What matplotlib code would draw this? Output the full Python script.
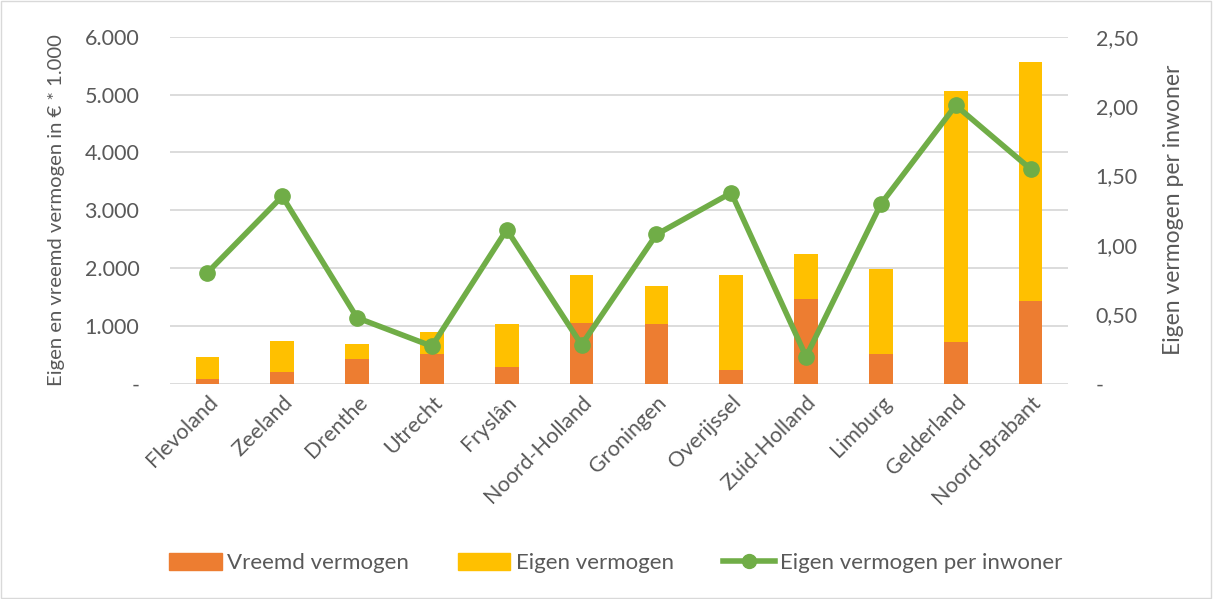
import numpy as np
import matplotlib.pyplot as plt
from matplotlib.patches import Rectangle
from matplotlib.lines import Line2D

provincies = ['Flevoland', 'Zeeland', 'Drenthe', 'Utrecht', 'Fryslân', 'Noord-Holland',
              'Groningen', 'Overijssel', 'Zuid-Holland', 'Limburg', 'Gelderland', 'Noord-Brabant']
vreemd = [86, 208, 433, 519, 294, 1055, 1038, 237, 1460, 519, 727, 1436]
eigen = [371, 531, 249, 375, 739, 826, 652, 1649, 779, 1465, 4337, 4125]
per_inwoner = [0.80, 1.35, 0.475, 0.27, 1.11, 0.28, 1.075, 1.375, 0.195, 1.295, 2.005, 1.547]

left_ticks = [0, 1000, 2000, 3000, 4000, 5000, 6000]
left_labels = ['-', '1.000', '2.000', '3.000', '4.000', '5.000', '6.000']
right_ticks = [0, 0.5, 1.0, 1.5, 2.0, 2.5]
right_labels = ['-', '0,50', '1,00', '1,50', '2,00', '2,50']

plt.rcParams['font.family'] = ['Lato', 'DejaVu Sans']
txt = '#595959'

fig = plt.figure(figsize=(12.13, 5.99), dpi=100)
ax = fig.add_axes([170/1213, 1 - 383.7/599, 898/1213, 347/599])
ax2 = ax.twinx()

x = np.arange(len(provincies))
w = 0.316
ax.bar(x, vreemd, w, color='#ED7D31', zorder=2)
ax.bar(x, eigen, w, bottom=vreemd, color='#FFC000', zorder=2)
ax.set_ylim(0, 6000)
ax.set_xlim(-0.5, len(provincies) - 0.5)
ax.set_yticks(left_ticks)
ax.set_yticklabels(left_labels)
ax.grid(axis='y', color='#D9D9D9', lw=1.3, zorder=0)
ax.set_axisbelow(True)
for s in ax.spines.values():
    s.set_visible(False)
ax.tick_params(axis='both', length=0, colors=txt, labelsize=15.5, pad=22)
ax.tick_params(axis='x', pad=6)
ax.set_xticks(x)
ax.set_xticklabels(provincies, rotation=45, ha='right', rotation_mode='anchor')
ax.set_ylabel('Eigen en vreemd vermogen in € * 1.000', color=txt, fontsize=14.6, labelpad=14)

ax2.plot(x, per_inwoner, color='#70AD47', lw=4, marker='o', ms=11, zorder=3)
ax2.set_ylim(0, 2.5)
ax2.set_yticks(right_ticks)
ax2.set_yticklabels(right_labels)
for s in ax2.spines.values():
    s.set_visible(False)
ax2.tick_params(axis='y', length=0, colors=txt, labelsize=15.5, pad=20)
ax2.set_ylabel('Eigen vermogen per inwoner', color=txt, fontsize=16.5, labelpad=18)

handles = [Rectangle((0, 0), 1, 1, color='#ED7D31'),
           Rectangle((0, 0), 1, 1, color='#FFC000'),
           Line2D([], [], color='#70AD47', lw=4, marker='o', ms=10)]
fig.legend(handles, ['Vreemd vermogen', 'Eigen vermogen', 'Eigen vermogen per inwoner'],
           loc='center', bbox_to_anchor=(616/1213, 1 - 563/599), ncol=3, frameon=False,
           fontsize=16, labelcolor=txt, handlelength=2.35, handleheight=0.8,
           columnspacing=2.2, handletextpad=0.25)

fig.patches.append(Rectangle((0.001, 0.002), 0.997, 0.996, transform=fig.transFigure,
                             fill=False, edgecolor='#D9D9D9', lw=1))

fig.savefig('out.png', dpi=100)
